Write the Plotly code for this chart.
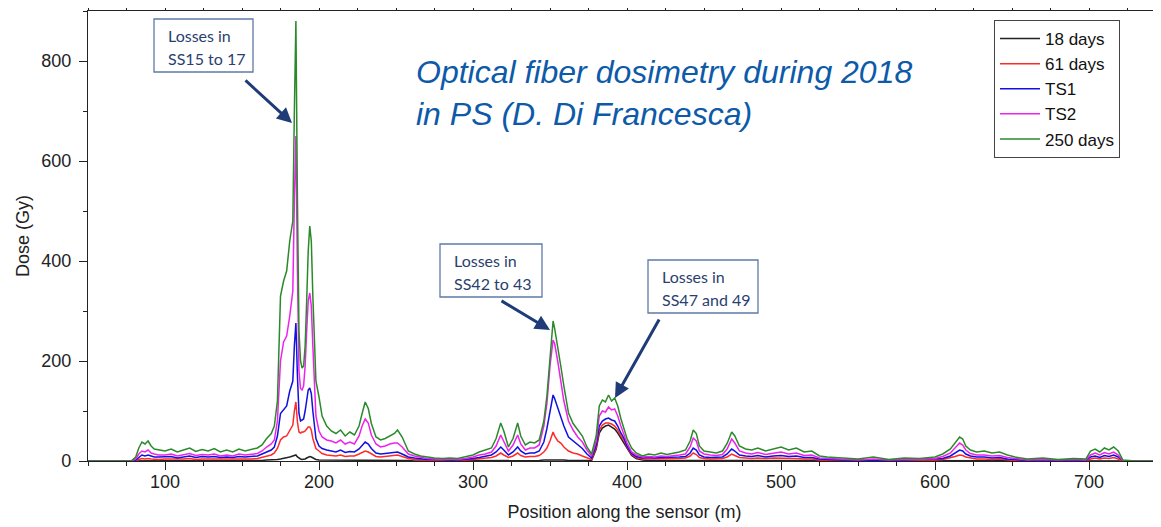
import plotly.graph_objects as go

# ---------------- data ----------------
position_m = [
    50, 78, 81, 83, 85, 87, 89, 91, 93, 96,
    100, 104, 108, 112, 116, 120, 124, 128, 132, 136,
    140, 144, 148, 152, 156, 160, 163, 166, 169, 171,
    173, 175, 177, 179, 181, 183, 184, 185, 186, 187,
    188, 189, 190, 191, 192, 193, 194, 195, 196, 197,
    198, 200, 202, 205, 208, 211, 214, 217, 220, 223,
    226, 228, 230, 232, 234, 237, 240, 243, 246, 249,
    251, 254, 258, 262, 266, 270, 275, 280, 285, 290,
    295, 300, 304, 308, 312, 315, 318, 320, 323, 326,
    329, 331, 334, 337, 340, 343, 346, 348, 350, 352,
    353, 355, 357, 359, 362, 365, 368, 371, 374, 377,
    380, 382, 384, 386, 388, 390, 392, 394, 396, 398,
    400, 403, 406, 410, 414, 418, 422, 426, 430, 434,
    438, 441, 443, 445, 447, 450, 454, 458, 462, 465,
    468, 470, 473, 477, 481, 485, 490, 495, 500, 505,
    510, 515, 520, 525, 530, 540, 550, 560, 570, 580,
    590, 600, 605, 610, 613, 616, 618, 620, 623, 627,
    632, 637, 642, 647, 652, 660, 670, 680, 690, 698,
    701, 704, 707, 710, 713, 716, 719, 722, 730, 750,
]

dose_18_days = [
    0, 0, 0, 1, 1, 1, 1, 1, 1, 1,
    1, 1, 1, 1, 1, 1, 1, 1, 1, 1,
    1, 1, 1, 1, 1, 1, 1, 2, 2, 2,
    3, 4, 5, 6, 8, 10, 11, 12, 8, 5,
    4, 3, 3, 4, 6, 8, 9, 8, 6, 4,
    3, 2, 2, 1, 1, 1, 1, 1, 1, 1,
    1, 1, 1, 1, 1, 1, 1, 1, 1, 1,
    1, 1, 1, 0, 0, 0, 0, 0, 0, 0,
    0, 0, 0, 0, 1, 1, 1, 1, 1, 1,
    1, 1, 1, 1, 1, 1, 2, 2, 2, 3,
    3, 2, 2, 2, 1, 1, 1, 1, 1, 1,
    24, 56, 66, 70, 72, 68, 64, 56, 46, 38,
    26, 11, 5, 2, 1, 1, 1, 1, 1, 1,
    1, 1, 1, 1, 1, 1, 1, 1, 1, 1,
    1, 1, 1, 1, 1, 1, 1, 1, 1, 1,
    1, 1, 1, 0, 0, 0, 0, 0, 0, 0,
    0, 0, 1, 1, 1, 1, 1, 1, 1, 1,
    1, 1, 1, 0, 0, 0, 0, 0, 0, 0,
    0, 1, 0, 1, 1, 1, 0, 0, 0, 0,
]

dose_61_days = [
    0, 0, 1, 3, 5, 4, 5, 4, 3, 3,
    4, 4, 3, 4, 5, 3, 4, 4, 4, 3,
    4, 3, 4, 4, 4, 5, 7, 10, 12, 16,
    25, 42, 48, 50, 60, 72, 100, 118, 78, 58,
    56, 58, 58, 60, 64, 68, 68, 62, 45, 34,
    25, 20, 15, 12, 11, 10, 12, 9, 10, 10,
    14, 17, 20, 18, 14, 9, 8, 9, 10, 12,
    12, 9, 5, 3, 2, 2, 1, 1, 1, 1,
    2, 3, 4, 5, 7, 10, 16, 12, 7, 10,
    16, 11, 8, 9, 9, 11, 18, 26, 40, 58,
    50, 40, 36, 28, 20, 16, 14, 10, 6, 3,
    28, 62, 72, 76, 76, 74, 70, 62, 50, 42,
    28, 13, 7, 4, 4, 4, 4, 4, 4, 5,
    6, 10, 16, 13, 7, 5, 4, 4, 5, 8,
    14, 11, 7, 6, 5, 6, 5, 6, 6, 5,
    5, 4, 4, 2, 2, 1, 1, 1, 1, 1,
    1, 2, 3, 6, 9, 12, 11, 8, 6, 4,
    4, 3, 4, 2, 1, 1, 1, 0, 1, 0,
    4, 6, 4, 6, 5, 7, 4, 0, 0, 0,
]

dose_TS1 = [
    0, 0, 2, 8, 12, 10, 12, 10, 8, 8,
    8, 9, 6, 8, 10, 7, 9, 8, 9, 7,
    8, 7, 9, 8, 9, 10, 14, 18, 22, 28,
    50, 95, 102, 110, 140, 160, 230, 276, 170, 95,
    80, 82, 84, 100, 125, 142, 146, 135, 100, 70,
    45, 30, 25, 22, 20, 18, 22, 17, 19, 18,
    24, 30, 38, 34, 25, 16, 14, 15, 16, 18,
    18, 14, 8, 6, 4, 3, 3, 2, 2, 2,
    3, 5, 7, 9, 12, 18, 28, 22, 12, 18,
    28, 20, 14, 16, 16, 20, 38, 65, 100, 132,
    125, 105, 88, 70, 48, 40, 32, 25, 14, 6,
    32, 70, 80, 84, 86, 82, 80, 70, 56, 46,
    30, 15, 9, 6, 7, 6, 7, 7, 7, 8,
    9, 16, 26, 22, 12, 8, 7, 7, 8, 14,
    24, 20, 12, 10, 9, 11, 8, 10, 11, 9,
    10, 7, 7, 4, 3, 2, 1, 2, 1, 2,
    2, 3, 5, 10, 16, 22, 20, 14, 10, 8,
    8, 6, 7, 4, 3, 1, 2, 1, 2, 1,
    8, 10, 7, 11, 9, 12, 8, 1, 0, 0,
]

dose_TS2 = [
    0, 0, 4, 14, 20, 18, 22, 16, 14, 12,
    12, 14, 10, 13, 15, 11, 13, 12, 14, 10,
    12, 10, 14, 12, 13, 15, 20, 28, 34, 42,
    80, 200, 238, 250, 290, 340, 520, 650, 380, 180,
    145, 142, 150, 190, 260, 320, 336, 310, 230, 150,
    90, 60, 48, 42, 40, 36, 42, 34, 38, 34,
    50, 70, 84, 76, 52, 34, 28, 30, 34, 36,
    36, 28, 14, 10, 7, 5, 4, 3, 4, 3,
    5, 8, 12, 14, 18, 30, 52, 40, 20, 32,
    52, 34, 22, 26, 26, 32, 70, 115, 190, 242,
    235, 200, 160, 120, 80, 62, 48, 38, 22, 10,
    40, 90, 100, 98, 108, 102, 104, 90, 70, 54,
    36, 18, 12, 8, 9, 8, 10, 9, 10, 12,
    14, 28, 46, 40, 20, 14, 12, 11, 13, 24,
    44, 36, 20, 16, 14, 17, 13, 16, 18, 14,
    16, 11, 12, 6, 5, 4, 2, 4, 2, 3,
    3, 5, 9, 16, 26, 36, 32, 22, 15, 12,
    12, 10, 11, 7, 5, 2, 3, 2, 3, 2,
    12, 16, 12, 17, 14, 18, 12, 1, 0, 0,
]

dose_250_days = [
    0, 0, 8, 26, 38, 34, 40, 30, 24, 22,
    20, 24, 18, 22, 26, 19, 23, 20, 25, 18,
    22, 18, 24, 20, 23, 26, 32, 45, 55, 70,
    120, 330, 360, 380, 440, 480, 700, 880, 520, 260,
    200, 186, 190, 230, 320, 420, 470, 440, 330, 230,
    160, 128, 90, 70, 60, 55, 62, 50, 58, 52,
    70, 95, 118, 105, 75, 48, 42, 45, 50, 55,
    62, 48, 20, 14, 10, 8, 6, 5, 6, 5,
    8, 12, 18, 22, 26, 45, 76, 60, 28, 45,
    76, 50, 32, 38, 36, 42, 80, 130, 210, 280,
    265, 230, 190, 150, 96, 75, 62, 50, 28, 14,
    50, 110, 122, 118, 132, 120, 126, 110, 85, 65,
    45, 26, 16, 10, 14, 12, 16, 13, 15, 18,
    22, 40, 62, 55, 30, 20, 18, 16, 20, 35,
    58, 50, 30, 24, 22, 26, 20, 24, 28, 22,
    26, 18, 20, 10, 8, 6, 4, 8, 3, 6,
    5, 8, 14, 24, 36, 48, 44, 30, 22, 18,
    20, 16, 18, 12, 8, 4, 6, 3, 5, 4,
    20, 24, 18, 26, 22, 28, 20, 2, 0, 0,
]

series_names = ["18 days", "61 days", "TS1", "TS2", "250 days"]
series_values = [dose_18_days, dose_61_days, dose_TS1, dose_TS2, dose_250_days]
series_colors = ["#222222", "#ff2a2a", "#1010e0", "#ee22ee", "#2a8a2a"]

x_ticks = [100, 200, 300, 400, 500, 600, 700]
y_ticks = [0, 200, 400, 600, 800]

callout_line1 = ["Losses in", "Losses in", "Losses in"]
callout_line2 = ["SS15 to 17", "SS42 to 43", "SS47 and 49"]

# ---------------- figure ----------------
# the page body has an 8 px margin, so the figure is 8 px smaller than the window
OFF = 8
W, H = 1161 - OFF, 527 - OFF
ML, MR, MT, MB = 88 - OFF, 0, 11 - OFF, 66
PW, PH = W - ML - MR, H - MT - MB


def px(xp):  # window pixel -> paper x
    return (xp - OFF - ML) / PW


def py(yp):  # window pixel -> paper y
    return (H - MB - (yp - OFF)) / PH


fig = go.Figure()
for name, vals, col in zip(series_names, series_values, series_colors):
    fig.add_trace(go.Scatter(
        x=position_m, y=vals, mode="lines", name=name,
        line=dict(color=col, width=1.5),
    ))

FONT = "Liberation Sans, Arial"
axis_common = dict(
    showline=True, linecolor="#222", linewidth=1.3, mirror="ticks",
    ticks="outside", ticklen=8, tickwidth=1.3, tickcolor="#222",
    showgrid=False, zeroline=False, automargin=False,
    tickfont=dict(family=FONT, size=18, color="#222"),
)

fig.update_xaxes(
    range=[50, 50 + PW / 1.54], tickvals=x_ticks, ticklabelstandoff=-4,
    minor=dict(dtick=25, ticks="outside", ticklen=4, tickcolor="#222", tickwidth=1.2),
    title=dict(text="Position along the sensor (m)",
               font=dict(family=FONT, size=18, color="#222"), standoff=14),
    **axis_common,
)
fig.update_yaxes(
    range=[0, 900], tickvals=y_ticks, ticklabelstandoff=4,
    minor=dict(dtick=100, ticks="outside", ticklen=4, tickcolor="#222", tickwidth=1.2),
    title=dict(text="Dose (Gy)",
               font=dict(family=FONT, size=18, color="#222"), standoff=6),
    **axis_common,
)

box_font = dict(family="Lato, Noto Sans", size=16, color="#2a3f6e")
boxes = [(154, 19, 99, 53), (440, 244, 102, 53), (648, 260, 110, 53)]
shapes = []
annotations = []
for (bx, by, bw, bh), l1, l2 in zip(boxes, callout_line1, callout_line2):
    shapes.append(dict(
        type="rect", xref="paper", yref="paper",
        x0=px(bx), x1=px(bx + bw), y0=py(by + bh), y1=py(by),
        line=dict(color="#5f7aa8", width=1.3), fillcolor="white", layer="above",
    ))
    for txt, dy in ((l1, 16), (l2, 39)):
        annotations.append(dict(
            text=txt, xref="paper", yref="paper", x=px(bx + 12), y=py(by + dy),
            xanchor="left", yanchor="middle", showarrow=False, font=box_font,
        ))

arrows = [((244, 79), (292, 123)), ((500, 300), (550, 330)), ((660, 318), (615, 398))]
for (tx, ty), (hx, hy) in arrows:
    annotations.append(dict(
        text="", xref="paper", yref="paper", x=px(hx), y=py(hy),
        ax=tx - hx, ay=ty - hy, axref="pixel", ayref="pixel",
        showarrow=True, arrowhead=2, arrowsize=1, arrowwidth=3,
        arrowcolor="#1f3b78", standoff=0, startstandoff=0,
    ))

annotations.append(dict(
    text="<i>Optical fiber dosimetry during 2018<br>in PS (D. Di Francesca)</i>",
    xref="paper", yref="paper", x=px(414), y=py(52), xanchor="left", yanchor="top",
    showarrow=False, align="left",
    font=dict(family=FONT, size=32, color="#0c5aa8"),
))

fig.update_layout(
    width=W, height=H,
    margin=dict(l=ML, r=MR, t=MT, b=MB, autoexpand=False),
    paper_bgcolor="white", plot_bgcolor="white",
    showlegend=True,
    legend=dict(
        x=px(994), y=py(20), xanchor="left", yanchor="top",
        bordercolor="#444", borderwidth=1, bgcolor="white",
        font=dict(family=FONT, size=17, color="#111"),
        tracegroupgap=0, itemwidth=40,
    ),
    shapes=shapes,
    annotations=annotations,
)

fig.write_html("out.html")
